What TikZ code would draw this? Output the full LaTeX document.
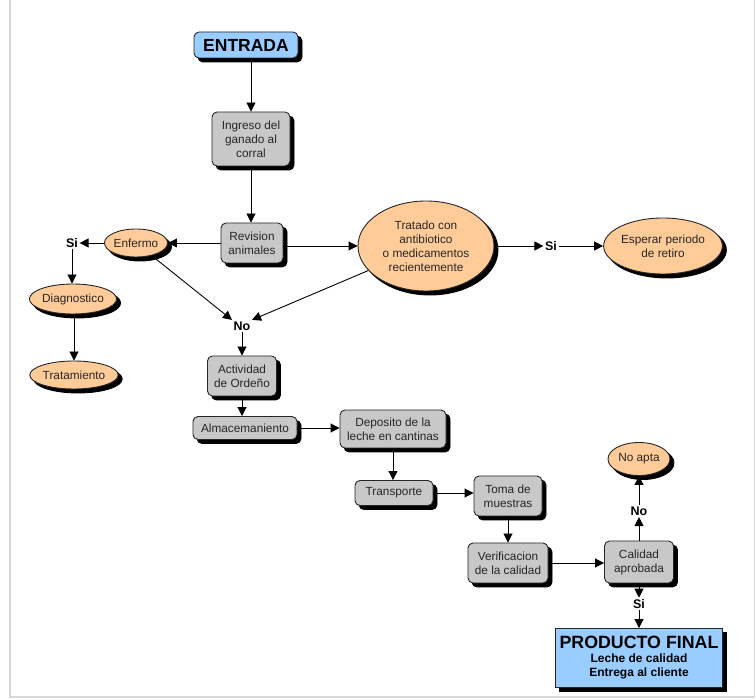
\documentclass[tikz,border=0pt]{standalone}
\usepackage{fontspec}
\setmainfont{Liberation Sans}
\usetikzlibrary{arrows.meta,shapes.geometric}
\definecolor{boxgray}{RGB}{200,200,200}
\definecolor{peach}{RGB}{255,204,153}
\definecolor{skyb}{RGB}{153,204,255}
\definecolor{framegray}{RGB}{215,215,215}
\begin{document}
\begin{tikzpicture}[x=1pt,y=-1pt,
  shad/.style={preaction={fill=black,draw=black,transform canvas={xshift=4pt,yshift=-4pt}}},
  base/.style={font=\fontsize{11.8}{14}\selectfont, text=black!85, align=center, inner sep=0pt, draw=black!85, line width=0.9pt, shad},
  gbox/.style={base, rectangle, rounded corners=5pt, fill=boxgray},
  oval/.style={base, ellipse, fill=peach},
  lbl/.style={font=\fontsize{12.5}{13}\selectfont\bfseries, inner sep=1.5pt, text=black},
  arr/.style={-{Triangle[length=9pt,width=9pt]}, line width=0.9pt, black}]
\useasboundingbox (0,0) rectangle (756,700);
\draw[framegray, line width=1.5pt] (10,0) -- (10,697) -- (754.5,697) -- (754.5,0);

% nodes
\node[base, rectangle, rounded corners=5pt, fill=skyb, minimum width=104pt, minimum height=26pt, font=\fontsize{17.5}{19}\selectfont\bfseries, text=black] (entrada) at (246,45) {ENTRADA};
\node[gbox, minimum width=78pt, minimum height=54pt] (ingreso) at (251,139) {Ingreso del\\ganado al\\corral};
\node[gbox, minimum width=62pt, minimum height=40pt] (revision) at (252,243) {Revision\\animales};
\node[oval, minimum width=62pt, minimum height=28pt] (enfermo) at (136,243) {Enfermo};
\node[lbl] (si1) at (72,243) {Si};
\node[oval, minimum width=85pt, minimum height=30pt] (diag) at (73,299) {Diagnostico};
\node[oval, minimum width=79pt, minimum height=28pt] (trat) at (74,375) {Tratamiento};
\node[oval, minimum width=136pt, minimum height=90pt] (tratado) at (426,246) {Tratado con\\antibiotico\\o medicamentos\\recientemente};
\node[lbl] (si2) at (551,246) {Si};
\node[oval, minimum width=108pt, minimum height=56pt] (esperar) at (663,246) {Esperar periodo\\de retiro};
\node[lbl] (no1) at (242,326) {No};
\node[gbox, minimum width=69pt, minimum height=40pt] (actividad) at (242,376) {Actividad\\de Ordeño};
\node[gbox, minimum width=104pt, minimum height=23pt] (almacen) at (245,428) {Almacemaniento};
\node[gbox, minimum width=106pt, minimum height=38pt] (deposito) at (393,429) {Deposito de la\\leche en cantinas};
\node[gbox, minimum width=78pt, minimum height=25pt] (transporte) at (394,493) {Transporte};
\node[gbox, minimum width=68pt, minimum height=40pt] (toma) at (508,496) {Toma de\\muestras};
\node[gbox, minimum width=80pt, minimum height=40pt] (verif) at (508,563) {Verificacion\\de la calidad};
\node[gbox, minimum width=69pt, minimum height=42pt] (calidad) at (639,562) {Calidad\\aprobada};
\node[lbl] (no2) at (639,511) {No};
\node[oval, minimum width=62pt, minimum height=33pt] (noapta) at (639,459) {No apta};
\node[lbl] (si3) at (639,604) {Si};
\node[base, rectangle, fill=skyb, minimum width=167pt, minimum height=59pt, text=black, font=\fontsize{12}{14}\selectfont\bfseries] (producto) at (639,658) {{\fontsize{17.8}{19}\selectfont PRODUCTO FINAL}\\Leche de calidad\\Entrega al cliente};

% connectors
\draw[arr] (entrada.south -| ingreso.north) -- (ingreso.north);
\draw[arr] (ingreso.south) -- (revision.north -| ingreso.south);
\draw[arr] (revision.west) -- (enfermo.east);
\draw[arr] (revision.east |- tratado.west) -- (tratado.west);
\draw[arr] (enfermo.west) -- (si1.east);
\draw[arr] (si1.south) -- (diag.north -| si1.south);
\draw[arr] (diag.south -| trat.north) -- (trat.north);
\draw[arr] (enfermo) -- (no1.north west);
\draw[arr] (tratado) -- (no1.north east);
\draw[arr] (tratado.east) -- (si2.west);
\draw[arr] (si2.east) -- (esperar.west);
\draw[arr] (no1.south) -- (actividad.north);
\draw[arr] (actividad.south) -- (almacen.north -| actividad.south);
\draw[arr] (almacen.east) -- (deposito.west |- almacen.east);
\draw[arr] (deposito.south) -- (transporte.north -| deposito.south);
\draw[arr] (transporte.east) -- (toma.west |- transporte.east);
\draw[arr] (toma.south) -- (verif.north);
\draw[arr] (verif.east) -- (calidad.west |- verif.east);
\draw[arr] (calidad.north) -- (no2.south);
\draw[arr] (no2.north) -- (noapta.south);
\draw[arr] (calidad.south) -- (si3.north);
\draw[arr] (si3.south) -- (producto.north);
\end{tikzpicture}
\end{document}
